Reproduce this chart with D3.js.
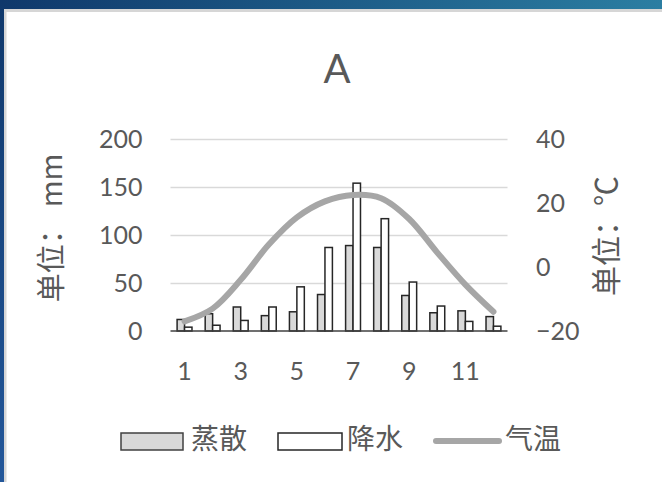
<!DOCTYPE html>
<html>
<head>
<meta charset="utf-8">
<script src="https://cdn.jsdelivr.net/npm/d3@7/dist/d3.min.js"></script>
<style>
  html, body { margin: 0; padding: 0; background: #fff; }
  svg { display: block; }
</style>
</head>
<body>
<svg id="chart" width="662" height="482"></svg>
<script>
// Monthly climate data for station A
const months = [1, 2, 3, 4, 5, 6, 7, 8, 9, 10, 11, 12];
const evaporation = [12, 18, 25, 16, 20, 38, 89, 87, 37, 19, 21, 15];    // mm
const precipitation = [4, 6, 11, 25, 46, 87, 154, 117, 51, 26, 10, 5];  // mm
const temperature = [-17, -13, -4, 7, 15.5, 20.5, 22.5, 21.5, 15, 4.5, -5.5, -14]; // °C
const mmTicks = [0, 50, 100, 150, 200];
const tempTicks = [-20, 0, 20, 40];
const monthLabels = [1, 3, 5, 7, 9, 11];
const seriesNames = ["蒸散", "降水", "气温"];

const svg = d3.select("#chart");
const W = 662, H = 482;
const textColor = "#595959";
const numFont = "Lato, 'Liberation Sans', sans-serif";
const cjkFont = "'Noto Sans CJK SC', 'Noto Sans', sans-serif";

// ---- window frame ----
const defs = svg.append("defs");
const gTop = defs.append("linearGradient").attr("id", "topbar")
  .attr("x1", "0").attr("x2", "1").attr("y1", "0").attr("y2", "0");
gTop.append("stop").attr("offset", "0").attr("stop-color", "#0f386b");
gTop.append("stop").attr("offset", "1").attr("stop-color", "#2b7ea2");
const gLeft = defs.append("linearGradient").attr("id", "leftbar")
  .attr("x1", "0").attr("x2", "0").attr("y1", "0").attr("y2", "1");
gLeft.append("stop").attr("offset", "0").attr("stop-color", "#0f386b");
gLeft.append("stop").attr("offset", "1").attr("stop-color", "#23579a");

svg.append("rect").attr("x", 0).attr("y", 0).attr("width", W).attr("height", H).attr("fill", "#fff");
svg.append("rect").attr("x", 4).attr("y", 9).attr("width", W - 4).attr("height", 3).attr("fill", "#d6d6d6");
svg.append("rect").attr("x", 4).attr("y", 9).attr("width", 2.5).attr("height", H - 9).attr("fill", "#d6d6d6");
svg.append("rect").attr("x", 0).attr("y", 0).attr("width", W).attr("height", 9).attr("fill", "url(#topbar)");
svg.append("rect").attr("x", 0).attr("y", 0).attr("width", 4).attr("height", H).attr("fill", "url(#leftbar)");

// ---- plot area ----
const plot = { left: 170.5, right: 507.5, top: 139, bottom: 331 };

const x0 = d3.scaleBand().domain(months).range([plot.left, plot.right])
  .paddingInner(0.47).paddingOuter(0.235);
const x1 = d3.scaleBand().domain([0, 1]).range([0, x0.bandwidth()]);
const y = d3.scaleLinear().domain([0, 200]).range([plot.bottom, plot.top]);
const y2 = d3.scaleLinear().domain([-20, 40]).range([plot.bottom, plot.top]);

// gridlines + left tick labels
const leftAxis = svg.append("g")
  .attr("transform", `translate(${plot.left},0)`)
  .call(d3.axisLeft(y).tickValues(mmTicks).tickSize(-(plot.right - plot.left)).tickPadding(28));
leftAxis.select(".domain").remove();
leftAxis.selectAll(".tick line").attr("stroke", "#d9d9d9").attr("stroke-width", 1.5)
  .filter(d => d === 0).remove();
leftAxis.selectAll(".tick text").attr("fill", textColor)
  .style("font-family", numFont).style("font-size", "25px");

// right tick labels
const rightAxis = svg.append("g")
  .attr("transform", `translate(${plot.right},0)`)
  .call(d3.axisRight(y2).tickValues(tempTicks).tickSize(0).tickPadding(28.5));
rightAxis.select(".domain").remove();
rightAxis.selectAll(".tick text").attr("fill", textColor)
  .style("font-family", numFont).style("font-size", "25px");

// bars
const barData = months.map((m, i) => [
  { m, k: 0, v: evaporation[i] },
  { m, k: 1, v: precipitation[i] }
]).flat();
svg.append("g").selectAll("rect").data(barData).join("rect")
  .attr("x", d => x0(d.m) + x1(d.k))
  .attr("y", d => y(d.v))
  .attr("width", x1.bandwidth())
  .attr("height", d => y(0) - y(d.v))
  .attr("fill", d => d.k === 0 ? "#d9d9d9" : "#ffffff")
  .attr("stroke", "#262626")
  .attr("stroke-width", 1.5);

// baseline
svg.append("line")
  .attr("x1", plot.left).attr("x2", plot.right)
  .attr("y1", y(0)).attr("y2", y(0))
  .attr("stroke", "#404040").attr("stroke-width", 1.5);

// temperature curve
const line = d3.line()
  .x((d, i) => x0(months[i]) + x0.bandwidth() / 2)
  .y(d => y2(d))
  .curve(d3.curveCatmullRom.alpha(0.5));
svg.append("path").datum(temperature)
  .attr("d", line)
  .attr("fill", "none")
  .attr("stroke", "#a6a6a6")
  .attr("stroke-width", 6)
  .attr("stroke-linecap", "round")
  .attr("stroke-linejoin", "round");

// month labels
svg.append("g").selectAll("text").data(monthLabels).join("text")
  .attr("x", d => x0(d) + x0.bandwidth() / 2)
  .attr("y", 380)
  .attr("text-anchor", "middle")
  .attr("fill", textColor)
  .style("font-family", numFont).style("font-size", "25px")
  .text(d => d);

// title
svg.append("text")
  .attr("x", 337).attr("y", 83)
  .attr("text-anchor", "middle")
  .attr("fill", textColor)
  .style("font-family", numFont).style("font-size", "40px")
  .text("A");

// axis titles
const leftTitle = svg.append("text")
  .attr("transform", "translate(62,228) rotate(-90)")
  .attr("text-anchor", "middle")
  .attr("fill", textColor)
  .style("font-family", cjkFont).style("font-size", "29px");
leftTitle.append("tspan").text("单位：");
leftTitle.append("tspan").attr("dx", 8).text("mm");

svg.append("text")
  .attr("transform", "translate(617,236) rotate(-90)")
  .attr("text-anchor", "middle")
  .attr("fill", textColor)
  .style("font-family", cjkFont).style("font-size", "30px")
  .text("单位：℃");

// legend
const legend = svg.append("g");
legend.append("rect").attr("x", 121).attr("y", 433).attr("width", 62).attr("height", 17)
  .attr("fill", "#d9d9d9").attr("stroke", "#404040").attr("stroke-width", 1.5);
legend.append("rect").attr("x", 278).attr("y", 433).attr("width", 64).attr("height", 17)
  .attr("fill", "#ffffff").attr("stroke", "#262626").attr("stroke-width", 1.5);
legend.append("line").attr("x1", 436).attr("x2", 499).attr("y1", 441).attr("y2", 441)
  .attr("stroke", "#a6a6a6").attr("stroke-width", 6).attr("stroke-linecap", "round");
const legendX = [191, 347, 505];
legend.selectAll("text").data(seriesNames).join("text")
  .attr("x", (d, i) => legendX[i]).attr("y", 449)
  .attr("fill", textColor)
  .style("font-family", cjkFont).style("font-size", "28px")
  .text(d => d);
</script>
</body>
</html>
